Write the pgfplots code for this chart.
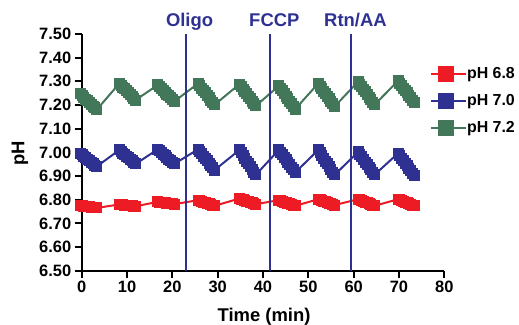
\documentclass[border=0pt]{standalone}
\usepackage{fontspec}
\setmainfont{Liberation Sans}
\usepackage{pgfplots}
\usepackage{pgfplotstable}
\pgfplotsset{compat=1.18}
\definecolor{redc}{HTML}{ED1C24}
\definecolor{bluec}{HTML}{2E3192}
\definecolor{greenc}{HTML}{43775A}
\definecolor{linec}{HTML}{2E3192}

\pgfplotstableread{
t     r       b       g
-0.3  6.7750  6.9960  7.2480
0.1   6.7739  6.9898  7.2404
0.5   6.7728  6.9836  7.2329
0.9   6.7717  6.9773  7.2253
1.3   6.7706  6.9711  7.2178
1.7   6.7694  6.9649  7.2102
2.1   6.7683  6.9587  7.2027
2.5   6.7672  6.9524  7.1951
2.9   6.7661  6.9462  7.1876
3.3   6.7650  6.9400  7.1800
8.3   6.7800  7.0100  7.2910
8.7   6.7791  7.0034  7.2832
9.1   6.7782  6.9969  7.2754
9.5   6.7773  6.9903  7.2677
9.9   6.7764  6.9838  7.2599
10.3  6.7756  6.9772  7.2521
10.7  6.7747  6.9707  7.2443
11.1  6.7738  6.9641  7.2366
11.5  6.7729  6.9576  7.2288
11.9  6.7720  6.9510  7.2210
16.8  6.7910  7.0130  7.2850
17.2  6.7899  7.0061  7.2772
17.6  6.7888  6.9992  7.2694
18.0  6.7877  6.9923  7.2617
18.4  6.7866  6.9854  7.2539
18.8  6.7854  6.9786  7.2461
19.2  6.7843  6.9717  7.2383
19.6  6.7832  6.9648  7.2306
20.0  6.7821  6.9579  7.2228
20.4  6.7810  6.9510  7.2150
25.7  6.7980  7.0130  7.2910
26.1  6.7953  7.0032  7.2810
26.5  6.7927  6.9934  7.2710
26.9  6.7900  6.9837  7.2610
27.3  6.7873  6.9739  7.2510
27.7  6.7847  6.9641  7.2410
28.1  6.7820  6.9543  7.2310
28.5  6.7793  6.9446  7.2210
28.9  6.7767  6.9348  7.2110
29.3  6.7740  6.9250  7.2010
34.8  6.8050  7.0100  7.2880
35.2  6.8023  6.9983  7.2778
35.6  6.7997  6.9867  7.2676
36.0  6.7970  6.9750  7.2573
36.4  6.7943  6.9633  7.2471
36.8  6.7917  6.9517  7.2369
37.2  6.7890  6.9400  7.2267
37.6  6.7863  6.9283  7.2164
38.0  6.7837  6.9167  7.2062
38.4  6.7810  6.9050  7.1960
43.5  6.7980  7.0100  7.2810
43.9  6.7953  6.9994  7.2701
44.3  6.7927  6.9889  7.2592
44.7  6.7900  6.9783  7.2483
45.1  6.7873  6.9678  7.2374
45.5  6.7847  6.9572  7.2266
45.9  6.7820  6.9467  7.2157
46.3  6.7793  6.9361  7.2048
46.7  6.7767  6.9256  7.1939
47.1  6.7740  6.9150  7.1830
52.2  6.8020  7.0100  7.2910
52.6  6.7992  6.9983  7.2802
53.0  6.7964  6.9867  7.2694
53.4  6.7937  6.9750  7.2587
53.8  6.7909  6.9633  7.2479
54.2  6.7881  6.9517  7.2371
54.6  6.7853  6.9400  7.2263
55.0  6.7826  6.9283  7.2156
55.4  6.7798  6.9167  7.2048
55.8  6.7770  6.9050  7.1940
61.0  6.8020  7.0020  7.2990
61.4  6.7989  6.9912  7.2881
61.8  6.7958  6.9804  7.2772
62.2  6.7927  6.9697  7.2663
62.6  6.7896  6.9589  7.2554
63.0  6.7864  6.9481  7.2446
63.4  6.7833  6.9373  7.2337
63.8  6.7802  6.9266  7.2228
64.2  6.7771  6.9158  7.2119
64.6  6.7740  6.9050  7.2010
69.8  6.8020  6.9960  7.3020
70.2  6.7989  6.9854  7.2919
70.6  6.7958  6.9749  7.2818
71.0  6.7927  6.9643  7.2717
71.4  6.7896  6.9538  7.2616
71.8  6.7864  6.9432  7.2514
72.2  6.7833  6.9327  7.2413
72.6  6.7802  6.9221  7.2312
73.0  6.7771  6.9116  7.2211
73.4  6.7740  6.9010  7.2110
}\datatable

\begin{document}
\begin{tikzpicture}
\path[use as bounding box] (-81.7bp,-54.3bp) rectangle (437.3bp,270.7bp);
\begin{axis}[
  at={(0,0)}, anchor=south west,
  scale only axis, width=362.6bp, height=236.7bp,
  xmin=0, xmax=80, ymin=6.5, ymax=7.5,
  axis lines*=left,
  axis line style={line width=1.8bp, black},
  clip=false,
  xtick={0,10,...,80},
  ytick={6.5,6.6,6.7,6.8,6.9,7.0,7.1,7.2,7.3,7.4,7.5},
  yticklabel style={/pgf/number format/fixed, /pgf/number format/fixed zerofill, /pgf/number format/precision=2},
  /pgf/number format/assume math mode=true,
  tick align=outside,
  major tick length=7bp,
  every tick/.style={line width=1.8bp, black},
  ticklabel style={font=\bfseries\fontsize{16.5}{16.5}\selectfont},
  xlabel={Time (min)},
  ylabel={pH},
  label style={font=\bfseries\fontsize{18.5}{18.5}\selectfont},
  xlabel style={at={(axis description cs:0.503,-0.2155)}, anchor=base},
  ylabel style={at={(axis description cs:-0.170,0.497)}, anchor=center},
  legend style={draw=none, fill=none, inner sep=0pt, outer sep=0pt,
    at={(axis description cs:0.9606,0.865)}, anchor=north west,
    row sep=11bp, nodes={inner sep=0pt},
    font=\bfseries\fontsize{16}{16}\selectfont},
  legend cell align=left,
]
\addplot[redc, line width=2bp, mark=square*, mark size=4.5bp, mark options={draw=none, fill=redc},
  legend image code/.code={\path (0bp,0bp) -- (35bp,0bp);\draw[redc,line width=2bp](0bp,0bp)--(30bp,0bp);\fill[redc](8bp,-7bp) rectangle (22bp,7bp);}]
  table[x=t, y=r] {\datatable};
\addlegendentry{pH 6.8}
\addplot[bluec, line width=2bp, mark=square*, mark size=4.5bp, mark options={draw=none, fill=bluec},
  legend image code/.code={\path (0bp,0bp) -- (35bp,0bp);\draw[bluec,line width=2bp](0bp,0bp)--(30bp,0bp);\fill[bluec](8bp,-7bp) rectangle (22bp,7bp);}]
  table[x=t, y=b] {\datatable};
\addlegendentry{pH 7.0}
\addplot[greenc, line width=2bp, mark=square*, mark size=4.5bp, mark options={draw=none, fill=greenc},
  legend image code/.code={\path (0bp,0bp) -- (35bp,0bp);\draw[greenc,line width=2bp](0bp,0bp)--(30bp,0bp);\fill[greenc](8bp,-7bp) rectangle (22bp,7bp);}]
  table[x=t, y=g] {\datatable};
\addlegendentry{pH 7.2}
\addplot[linec, line width=2bp, forget plot] coordinates {(23.0,6.5) (23.0,7.5)};
\addplot[linec, line width=2bp, forget plot] coordinates {(41.6,6.5) (41.6,7.5)};
\addplot[linec, line width=2bp, forget plot] coordinates {(59.4,6.5) (59.4,7.5)};
\node[anchor=base, yshift=7.3bp, text=linec, font=\bfseries\fontsize{18.5}{18.5}\selectfont] at (axis cs:23.8,7.5) {Oligo};
\node[anchor=base, yshift=7.3bp, text=linec, font=\bfseries\fontsize{18.5}{18.5}\selectfont] at (axis cs:42.5,7.5) {FCCP};
\node[anchor=base, yshift=7.3bp, text=linec, font=\bfseries\fontsize{18.5}{18.5}\selectfont] at (axis cs:60.4,7.5) {Rtn/AA};
\end{axis}
\end{tikzpicture}
\end{document}
